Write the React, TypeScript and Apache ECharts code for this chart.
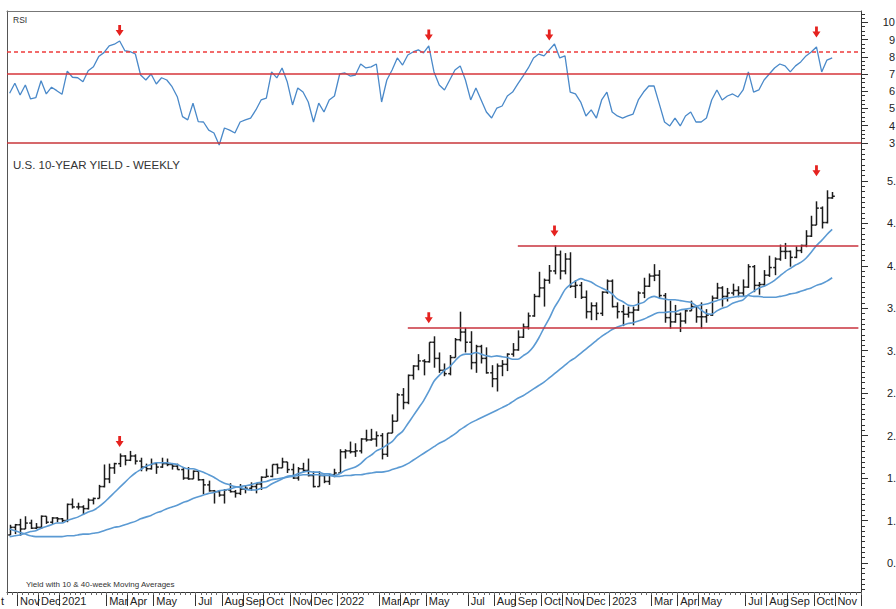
import React, { useEffect, useRef } from 'react';
import * as echarts from 'echarts';

// ---- categories: weekly bars, first bar = week ending Oct 23 2020 ----
const START_WEEK = Date.UTC(2020, 9, 23);
const N_WEEKS = 163;
const weeks: string[] = Array.from({ length: N_WEEKS }, (_, i) =>
  new Date(START_WEEK + i * 7 * 86400000).toISOString().slice(0, 10)
);

// month tick labels: [week index, text]
const monthLabels: [number, string][] = [
  [2, 'Nov'], [6, 'Dec'], [10, '2021'], [19, 'Mar'], [23, 'Apr'], [28, 'May'], [36, 'Jul'],
  [41, 'Aug'], [45, 'Sep'], [49, 'Oct'], [54, 'Nov'], [58, 'Dec'], [63, '2022'], [71, 'Mar'],
  [75, 'Apr'], [80, 'May'], [88, 'Jul'], [93, 'Aug'], [97, 'Sep'], [102, 'Oct'], [106, 'Nov'],
  [110, 'Dec'], [115, '2023'], [123, 'Mar'], [128, 'Apr'], [132, 'May'], [141, 'Jul'],
  [145, 'Aug'], [149, 'Sep'], [154, 'Oct'], [158, 'Nov'],
];

// right-axis ticks and the (edge-cropped) label texts visible in the reference
const yieldTicks = [0.5, 1.0, 1.5, 2.0, 2.5, 3.0, 3.5, 4.0, 4.5, 5.0];
const yieldTickLabels = ['0.', '1.', '1.', '2.', '2.', '3.', '3.', '4.', '4.', '5.'];
const rsiTicks = [30, 40, 50, 60, 70, 80, 90, 100];
const rsiTickLabels = ['3', '4', '5', '6', '7', '8', '9', '10'];

// ---- weekly yield bars ----
const open = [0.83,0.92,0.95,0.90,0.97,0.91,0.92,1.05,0.98,1.03, 1.02,1.00,1.19,1.16,1.16,1.14,1.24,1.26,1.40,1.49, 1.62,1.67,1.76,1.71,1.76,1.70,1.63,1.61,1.67,1.63, 1.67,1.66,1.64,1.60,1.50,1.49,1.58,1.48,1.42,1.35, 1.34,1.30,1.36,1.34,1.32,1.37,1.38,1.40,1.43,1.51, 1.52,1.66,1.62,1.69,1.60,1.50,1.61,1.59,1.53,1.40, 1.53,1.46,1.54,1.56,1.81,1.82,1.81,1.82,1.96,1.95, 1.96,2.00,1.78,2.03,2.17,2.48,2.39,2.71,2.82,2.88, 2.87,3.10,2.91,2.77,2.73,2.92,3.13,3.22,3.10,2.86, 3.05,2.91,2.74,2.67,2.82,2.84,2.96,3.01,3.16,3.28, 3.41,3.64,3.74,3.83,3.94,4.13,3.94,4.08,3.76,3.77, 3.63,3.46,3.53,3.44,3.69,3.82,3.52,3.46,3.43,3.45, 3.48,3.68,3.76,3.88,3.89,3.65,3.39,3.34,3.43,3.35, 3.47,3.52,3.40,3.40,3.42,3.62,3.74,3.64,3.68,3.71, 3.68,3.75,3.99,3.77,3.78,3.89,3.98,4.08,4.17,4.17, 4.10,4.18,4.24,4.35,4.48,4.68,4.51,4.80];
const high = [0.95,0.96,1.02,1.05,1.01,0.97,1.06,1.05,1.04,1.04, 1.03,1.20,1.26,1.21,1.18,1.26,1.27,1.42,1.66,1.67, 1.68,1.79,1.77,1.82,1.78,1.74,1.67,1.73,1.68,1.74, 1.73,1.67,1.67,1.63,1.63,1.59,1.58,1.49,1.47,1.36, 1.36,1.37,1.44,1.36,1.43,1.41,1.45,1.44,1.52,1.61, 1.66,1.67,1.74,1.69,1.67,1.63,1.68,1.73,1.58,1.58, 1.54,1.55,1.61,1.84,1.84,1.93,1.91,1.97,2.07,2.08, 2.05,2.03,2.03,2.25,2.50,2.56,2.72,2.83,2.96,2.90, 3.10,3.17,2.98,2.85,2.95,3.15,3.46,3.27,3.23,3.07, 3.07,3.04,2.83,2.85,2.89,2.97,3.09,3.24,3.32,3.45, 3.67,3.93,3.85,4.01,4.24,4.18,4.15,4.16,3.83,3.81, 3.71,3.57,3.57,3.70,3.84,3.84,3.57,3.54,3.52,3.52, 3.70,3.86,3.91,4.02,3.95,3.68,3.59,3.54,3.45,3.49, 3.59,3.53,3.57,3.49,3.65,3.80,3.76,3.74,3.79,3.76, 3.84,4.02,4.01,3.81,3.95,4.12,4.10,4.25,4.27,4.18, 4.23,4.25,4.42,4.59,4.76,4.70,4.89,4.87];
const low = [0.83,0.84,0.82,0.90,0.90,0.90,0.90,0.96,0.96,0.98, 0.98,0.98,1.14,1.13,1.07,1.13,1.19,1.26,1.39,1.44, 1.55,1.63,1.65,1.70,1.66,1.58,1.58,1.60,1.55,1.62, 1.64,1.60,1.60,1.48,1.48,1.49,1.47,1.31,1.34,1.20, 1.28,1.20,1.33,1.27,1.30,1.32,1.35,1.32,1.36,1.51, 1.51,1.55,1.62,1.56,1.49,1.47,1.57,1.52,1.39,1.40, 1.44,1.42,1.51,1.55,1.73,1.79,1.75,1.79,1.93,1.94, 1.87,1.72,1.75,2.03,2.17,2.31,2.37,2.66,2.77,2.71, 2.86,2.80,2.74,2.70,2.71,2.92,3.11,2.98,2.78,2.74, 2.85,2.73,2.57,2.52,2.70,2.76,2.93,3.00,3.15,3.25, 3.40,3.63,3.52,3.79,3.90,3.84,3.90,3.74,3.62,3.61, 3.38,3.36,3.36,3.41,3.67,3.51,3.38,3.29,3.39,3.30, 3.47,3.62,3.75,3.82,3.62,3.33,3.26,3.33,3.22,3.32, 3.47,3.33,3.26,3.33,3.41,3.61,3.52,3.58,3.65,3.63, 3.64,3.74,3.69,3.66,3.76,3.87,3.89,4.06,4.08,3.99, 4.09,4.15,4.22,4.34,4.48,4.44,4.50,4.79];
const close = [0.92,0.95,0.90,0.97,0.91,0.92,1.05,0.98,1.03,1.02, 1.00,1.19,1.16,1.16,1.14,1.24,1.26,1.40,1.49,1.62, 1.67,1.76,1.71,1.76,1.70,1.63,1.61,1.67,1.63,1.67, 1.66,1.64,1.60,1.50,1.49,1.58,1.48,1.42,1.35,1.34, 1.30,1.36,1.34,1.32,1.37,1.38,1.40,1.43,1.51,1.52, 1.66,1.62,1.69,1.60,1.50,1.61,1.59,1.53,1.40,1.53, 1.46,1.54,1.56,1.81,1.82,1.81,1.82,1.96,1.95,1.96, 2.00,1.78,2.03,2.17,2.48,2.39,2.71,2.82,2.88,2.87, 3.10,2.91,2.77,2.73,2.92,3.13,3.22,3.10,2.86,3.05, 2.91,2.74,2.67,2.82,2.84,2.96,3.01,3.16,3.28,3.41, 3.64,3.74,3.83,3.94,4.13,3.94,4.08,3.76,3.77,3.63, 3.46,3.53,3.44,3.69,3.82,3.52,3.46,3.43,3.45,3.48, 3.68,3.76,3.88,3.89,3.65,3.39,3.34,3.43,3.35,3.47, 3.52,3.40,3.40,3.42,3.62,3.74,3.64,3.68,3.71,3.68, 3.75,3.99,3.77,3.78,3.89,3.98,4.08,4.17,4.17,4.10, 4.18,4.24,4.35,4.48,4.68,4.51,4.80,4.82];

// ---- moving averages as drawn ----
const ma10 = [0.81,0.82,0.83,0.85,0.87,0.88,0.91,0.93,0.95,0.97, 0.97,1.00,1.02,1.04,1.07,1.10,1.12,1.16,1.21,1.27, 1.33,1.39,1.45,1.51,1.56,1.60,1.64,1.66,1.68,1.68, 1.68,1.67,1.66,1.63,1.61,1.61,1.59,1.57,1.54,1.51, 1.47,1.44,1.42,1.40,1.39,1.37,1.36,1.36,1.38,1.39, 1.43,1.46,1.49,1.52,1.53,1.55,1.57,1.58,1.57,1.57, 1.55,1.55,1.53,1.55,1.59,1.61,1.63,1.67,1.73,1.77, 1.82,1.85,1.89,1.93,2.00,2.05,2.14,2.23,2.32,2.41, 2.52,2.64,2.71,2.77,2.81,2.88,2.94,2.96,2.96,2.98, 2.96,2.94,2.93,2.94,2.93,2.92,2.90,2.90,2.94,2.98, 3.05,3.15,3.27,3.38,3.51,3.61,3.72,3.78,3.82,3.85, 3.83,3.81,3.77,3.74,3.71,3.67,3.61,3.58,3.54,3.53, 3.55,3.57,3.62,3.64,3.62,3.61,3.60,3.60,3.59,3.58, 3.57,3.53,3.48,3.44,3.43,3.47,3.50,3.52,3.56,3.58, 3.60,3.66,3.70,3.74,3.76,3.79,3.83,3.88,3.93,3.97, 4.01,4.04,4.09,4.16,4.24,4.30,4.37,4.43];
const ma40 = [0.90,0.88,0.86,0.84,0.82,0.81,0.81,0.81,0.81,0.81, 0.81,0.82,0.82,0.83,0.84,0.84,0.85,0.86,0.88,0.90, 0.92,0.93,0.95,0.97,0.99,1.02,1.04,1.06,1.09,1.11, 1.14,1.16,1.18,1.21,1.23,1.26,1.28,1.30,1.32,1.33, 1.35,1.36,1.37,1.39,1.40,1.41,1.42,1.44,1.45,1.46, 1.48,1.49,1.50,1.51,1.52,1.53,1.54,1.54,1.54,1.54, 1.53,1.53,1.52,1.52,1.53,1.53,1.54,1.54,1.55,1.56, 1.57,1.57,1.58,1.60,1.62,1.64,1.67,1.71,1.75,1.79, 1.83,1.87,1.91,1.94,1.98,2.02,2.07,2.11,2.15,2.18, 2.21,2.24,2.27,2.30,2.33,2.36,2.40,2.44,2.47,2.51, 2.55,2.59,2.63,2.68,2.73,2.78,2.83,2.88,2.92,2.97, 3.02,3.07,3.12,3.17,3.21,3.25,3.28,3.30,3.32,3.33, 3.35,3.37,3.40,3.43,3.45,3.45,3.46,3.46,3.48,3.49, 3.50,3.52,3.54,3.55,3.57,3.59,3.61,3.62,3.63,3.64, 3.64,3.65,3.64,3.64,3.63,3.63,3.63,3.64,3.65,3.67, 3.68,3.70,3.72,3.74,3.77,3.79,3.82,3.86];

// ---- RSI ----
const rsi = [58.8,64.6,57.8,63.6,55.5,56.2,66.1,58.4,62.3,60.3, 58.2,71.7,68.1,67.8,65.5,71.9,74.2,80.1,82.4,86.3, 87.3,89.2,83.5,83.0,81.6,69.4,66.5,70.0,64.2,67.8, 66.5,62.6,56.8,45.2,43.3,53.0,42.3, 42.1,37.4,35.7, 28.7,38.6,37.4,35.7,42.1,43.3,44.4,49.1,54.9,56.0, 71.2,67.7,73.5,65.3,52.0,61.9,59.5,53.7,42.1,53.1, 47.9,54.9,57.2,70.0,70.6,68.8,69.4,75.8,73.5,74.1, 75.8,53.7,66.5,72.3,79.3,75.2,81.0,82.8,84.0,82.2, 86.3,71.2,63.6,60.7,66.5,72.3,74.7,66.5,54.9,61.9, 54.9,47.9,44.4,50.2,51.4,57.2,59.5,64.2,68.8,73.5, 79.3,81.6,80.5,84.0,87.4,79.3,80.5,59.5,58.4,53.7, 45.6,49.1,44.4,54.9,59.5,47.9,45.6,44.4,45.6,46.7, 54.9,59.5,63.0,63.0,52.6,42.1,39.8,44.4,39.8,45.6, 47.9,42.1,42.1,44.4,54.9,60.7,54.9,57.2,58.4,56.6, 60.7,71.2,59.5,60.7,66.5,70.0,73.5,75.8,74.7,71.2, 74.7,77.0,80.5,82.8,85.7,71.2,78.1,79.3];

// reference levels and signal arrows
const rsiLevels = { upperDashed: 82.8, upper: 70, lower: 30 };
const resistance = { from: 97, to: 162, value: 4.24 };
const support = { from: 76, to: 162, value: 3.265 };
const rsiArrows: [number, number][] = [[21, 95.3], [80, 92.6], [103, 92.6], [154, 94.4]];
const yieldArrows: [number, number][] = [[21, 1.93], [80, 3.39], [104, 4.41], [154, 5.12]];

const FONT = 'Liberation Sans, Arial, Helvetica, sans-serif';
const RSI_MIN = 27.56, RSI_MAX = 106.6;
const Y_MIN = 0.158, Y_MAX = 5.4;

const rsiMinor: number[] = [];
for (let k = 11; k <= 42; k++) { const v = k * 2.5; if (k % 4 !== 0 && v >= RSI_MIN && v <= RSI_MAX) rsiMinor.push(v); }
const yieldMinor: number[] = [];
for (let k = 3; k <= 86; k++) { if (k % 8 !== 0) yieldMinor.push(k * 0.0625); }

const labelMap = new Map<number, string>(monthLabels);
const ARROW = 'path://M2.6,0 H5.4 V5 H8 L4,11 L0,5 H2.6 Z';

function buildOption(): any {
  const bars = open.map((o, i) => [i, o, high[i], low[i], close[i]]);
  const grid = [
    { left: 7, top: 11, width: 854, height: 136, containLabel: false, outerBoundsMode: 'none' },
    { left: 7, top: 147, width: 854, height: 445, containLabel: false, outerBoundsMode: 'none' },
  ];
  const hiddenAxisParts = { axisTick: { show: false }, axisLabel: { show: false }, splitLine: { show: false } };
  return {
    animation: false,
    backgroundColor: '#ffffff',
    textStyle: { fontFamily: FONT },
    grid,
    xAxis: [
      { type: 'category', gridIndex: 0, data: weeks, position: 'top', boundaryGap: true,
        axisLine: { show: true, onZero: false, lineStyle: { color: '#777', width: 1 } }, ...hiddenAxisParts },
      { type: 'category', gridIndex: 1, data: weeks, position: 'bottom', boundaryGap: true,
        axisLine: { show: true, onZero: false, lineStyle: { color: '#333', width: 1 } },
        axisTick: { show: true, length: 14, interval: (i: number) => labelMap.has(i), lineStyle: { color: '#333' } },
        axisLabel: { show: true, interval: (i: number) => labelMap.has(i), formatter: (_v: string, i: number) => labelMap.get(i) || '',
          align: 'left', margin: 3, fontSize: 11, color: '#222', fontFamily: FONT },
        splitLine: { show: false } },
      { type: 'category', gridIndex: 1, data: weeks, position: 'bottom', boundaryGap: true,
        axisLine: { show: false, onZero: false },
        axisTick: { show: true, length: 3, interval: 0, lineStyle: { color: '#666' } },
        axisLabel: { show: false }, splitLine: { show: false } },
    ],
    yAxis: [
      { type: 'value', gridIndex: 0, position: 'right', min: RSI_MIN, max: RSI_MAX,
        axisLine: { show: true, onZero: false, lineStyle: { color: '#333' } },
        axisTick: { show: true, length: 7, customValues: rsiTicks, lineStyle: { color: '#333' } },
        axisLabel: { show: true, customValues: rsiTicks,
          formatter: (v: number) => rsiTickLabels[rsiTicks.indexOf(Math.round(v))] ?? '',
          align: 'right', margin: 34, fontSize: 11, color: '#222', fontFamily: FONT },
        splitLine: { show: false } },
      { type: 'value', gridIndex: 0, position: 'right', min: RSI_MIN, max: RSI_MAX,
        axisLine: { show: false, onZero: false },
        axisTick: { show: true, length: 4, customValues: rsiMinor, lineStyle: { color: '#333' } },
        axisLabel: { show: false }, splitLine: { show: false } },
      { type: 'value', gridIndex: 0, position: 'left', min: RSI_MIN, max: RSI_MAX,
        axisLine: { show: true, onZero: false, lineStyle: { color: '#555' } }, ...hiddenAxisParts },
      { type: 'value', gridIndex: 1, position: 'right', min: Y_MIN, max: Y_MAX,
        axisLine: { show: true, onZero: false, lineStyle: { color: '#333' } },
        axisTick: { show: true, length: 7, customValues: yieldTicks, lineStyle: { color: '#333' } },
        axisLabel: { show: true, customValues: yieldTicks,
          formatter: (v: number) => yieldTickLabels[yieldTicks.findIndex((t) => Math.abs(t - v) < 1e-6)] ?? '',
          align: 'left', margin: 26, fontSize: 11, color: '#222', fontFamily: FONT },
        splitLine: { show: false } },
      { type: 'value', gridIndex: 1, position: 'right', min: Y_MIN, max: Y_MAX,
        axisLine: { show: false, onZero: false },
        axisTick: { show: true, length: 4, customValues: yieldMinor, lineStyle: { color: '#333' } },
        axisLabel: { show: false }, splitLine: { show: false } },
      { type: 'value', gridIndex: 1, position: 'left', min: Y_MIN, max: Y_MAX,
        axisLine: { show: true, onZero: false, lineStyle: { color: '#555' } }, ...hiddenAxisParts },
    ],
    series: [
      {
        name: 'RSI', type: 'line', xAxisIndex: 0, yAxisIndex: 0, data: rsi, showSymbol: false, silent: true,
        lineStyle: { color: '#4a89c9', width: 1.3 }, z: 3,
        markLine: {
          silent: true, symbol: ['none', 'none'], label: { show: false },
          data: [
            { yAxis: rsiLevels.upper, lineStyle: { color: '#d6353a', width: 1.5, type: 'solid' } },
            { yAxis: rsiLevels.lower, lineStyle: { color: '#c8363a', width: 1.5, type: 'solid' } },
            { yAxis: rsiLevels.upperDashed, lineStyle: { color: '#ee3b3b', width: 1.5, type: [4, 3] } },
          ],
        },
        markPoint: {
          silent: true, symbol: ARROW, symbolSize: [8, 11], label: { show: false },
          itemStyle: { color: '#e5221f' },
          data: rsiArrows.map(([i, v]) => ({ coord: [i, v] })),
        },
      },
      {
        name: 'Yield', type: 'custom', xAxisIndex: 1, yAxisIndex: 3, data: bars, silent: true, z: 2,
        encode: { x: 0, y: [1, 2, 3, 4] },
        renderItem: (_p: any, api: any) => {
          const i = api.value(0);
          const po = api.coord([i, api.value(1)]);
          const ph = api.coord([i, api.value(2)]);
          const pl = api.coord([i, api.value(3)]);
          const pc = api.coord([i, api.value(4)]);
          const x = Math.round(ph[0]) + 0.5;
          const style = { stroke: '#1b1b1b', lineWidth: 1.5 };
          return {
            type: 'group',
            children: [
              { type: 'line', shape: { x1: x, y1: ph[1], x2: x, y2: pl[1] }, style },
              { type: 'line', shape: { x1: x - 2.3, y1: po[1], x2: x, y2: po[1] }, style },
              { type: 'line', shape: { x1: x, y1: pc[1], x2: x + 2.3, y2: pc[1] }, style },
            ],
          };
        },
      },
      {
        name: '10-week MA', type: 'line', xAxisIndex: 1, yAxisIndex: 3, data: ma10, showSymbol: false, silent: true,
        smooth: 0.3, lineStyle: { color: '#5b9ad3', width: 1.6 }, z: 3,
        markPoint: {
          silent: true, symbol: ARROW, symbolSize: [8, 11], label: { show: false },
          itemStyle: { color: '#e5221f' },
          data: yieldArrows.map(([i, v]) => ({ coord: [i, v] })),
        },
      },
      {
        name: '40-week MA', type: 'line', xAxisIndex: 1, yAxisIndex: 3, data: ma40, showSymbol: false, silent: true,
        smooth: 0.3, lineStyle: { color: '#5b9ad3', width: 1.6 }, z: 3,
        markLine: {
          silent: true, symbol: ['none', 'none'], label: { show: false },
          lineStyle: { color: '#c9323c', width: 1.5, type: 'solid' },
          data: [
            [{ coord: [resistance.from, resistance.value] }, { coord: [resistance.to, resistance.value] }],
            [{ coord: [support.from, support.value] }, { coord: [support.to, support.value] }],
          ],
        },
      },
    ],
    graphic: [
      { type: 'text', left: 13, top: 15, silent: true,
        style: { text: 'RSI', fontSize: 8.5, fill: '#333', fontFamily: FONT } },
      { type: 'text', left: 13, top: 159, silent: true,
        style: { text: 'U.S. 10-YEAR YIELD - WEEKLY', fontSize: 11.5, fill: '#333', fontFamily: FONT } },
      { type: 'text', left: 26, top: 580, silent: true,
        style: { text: 'Yield with 10 & 40-week Moving Averages', fontSize: 8, fill: '#333', fontFamily: FONT } },
      { type: 'text', left: 1, top: 595, silent: true,
        style: { text: 't', fontSize: 11, fill: '#222', fontFamily: FONT } },
    ],
  };
}

export default function App() {
  const ref = useRef<HTMLDivElement>(null);
  useEffect(() => {
    if (!ref.current) return;
    const chart = echarts.init(ref.current, null, { renderer: 'svg' });
    chart.setOption(buildOption());
    return () => chart.dispose();
  }, []);
  return (
    <div
      ref={ref}
      style={{ position: 'fixed', left: 0, top: 0, width: 896, height: 609, background: '#ffffff', overflow: 'hidden' }}
    />
  );
}
